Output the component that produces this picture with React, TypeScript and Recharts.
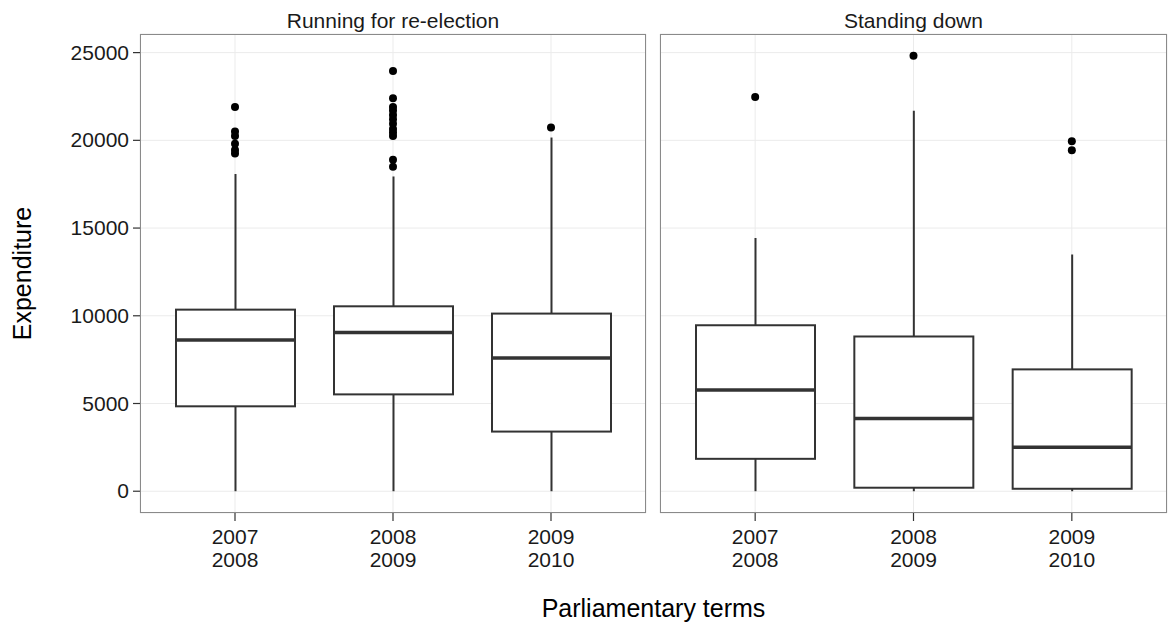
import React from 'react';
import { ComposedChart, Bar, Scatter, XAxis, YAxis, CartesianGrid } from 'recharts';

// ---------- data ----------
const terms = ['2007\n2008', '2008\n2009', '2009\n2010'];
const yTicks = [0, 5000, 10000, 15000, 20000, 25000];
const yDomain: [number, number] = [-1241, 26061];

const panelTitles = ['Running for re-election', 'Standing down'];
const xTitle = 'Parliamentary terms';
const yTitle = 'Expenditure';

// Running for re-election
const reLow = [0, 0, 0];
const reQ1 = [4840, 5520, 3400];
const reMedian = [8625, 9045, 7600];
const reQ3 = [10350, 10540, 10125];
const reHigh = [18080, 17940, 20160];
const reOutliers = [
  [21900, 20500, 20250, 19800, 19450, 19250],
  [23950, 22400, 21900, 21700, 21450, 21200, 20950, 20650, 20450, 20250, 18900, 18500],
  [20730],
];

// Standing down
const sdLow = [0, 0, 0];
const sdQ1 = [1847, 200, 140];
const sdMedian = [5767, 4140, 2510];
const sdQ3 = [9460, 8820, 6945];
const sdHigh = [14440, 21690, 13490];
const sdOutliers = [[22470], [24820], [19950, 19440]];

// ---------- helpers ----------
function buildBoxes(low: number[], q1: number[], med: number[], q3: number[], high: number[]) {
  return terms.map((term, i) => ({
    term,
    range: [low[i], high[i]],
    low: low[i],
    q1: q1[i],
    median: med[i],
    q3: q3[i],
    high: high[i],
  }));
}
function buildOutliers(outs: number[][]) {
  return outs.flatMap((vals, i) => vals.map((v) => ({ term: terms[i], value: v })));
}

const FONT = "'Liberation Sans', Arial, Helvetica, sans-serif";
const BOX_STROKE = '#333333';

const BoxShape = (props: any) => {
  const { x, y, width, height, payload } = props;
  if (!payload || height == null) return null;
  const { low, q1, median, q3, high } = payload;
  const top = Math.min(y, y + height);
  const h = Math.abs(height);
  const py = (v: number) => top + (h * (high - v)) / (high - low);
  const cx = x + width / 2;
  return (
    <g>
      <line x1={cx} x2={cx} y1={py(high)} y2={py(q3)} stroke={BOX_STROKE} strokeWidth={2} />
      <line x1={cx} x2={cx} y1={py(q1)} y2={py(low)} stroke={BOX_STROKE} strokeWidth={2} />
      <rect x={x} y={py(q3)} width={width} height={py(q1) - py(q3)} fill="#ffffff" stroke={BOX_STROKE} strokeWidth={2} />
      <line x1={x} x2={x + width} y1={py(median)} y2={py(median)} stroke={BOX_STROKE} strokeWidth={3.5} />
    </g>
  );
};

const Dot = (props: any) => {
  const { cx, cy } = props;
  if (cx == null || cy == null) return null;
  return <circle cx={cx} cy={cy} r={4} fill="#000000" />;
};

const XTick = (props: any) => {
  const { x, y, payload } = props;
  const lines = String(payload.value).split('\n');
  return (
    <text x={x} y={y} textAnchor="middle" fontFamily={FONT} fontSize={21} fill="#1a1a1a">
      {lines.map((l, i) => (
        <tspan key={i} x={x} dy={i === 0 ? 21 : 23}>
          {l}
        </tspan>
      ))}
    </text>
  );
};

const YTick = (props: any) => {
  const { x, y, payload } = props;
  return (
    <text x={x} y={y} dy={7} textAnchor="end" fontFamily={FONT} fontSize={21} fill="#1a1a1a">
      {payload.value}
    </text>
  );
};

const EmptyTick = () => <g />;

const CHART_H = 600;
const MARGIN_TOP = 34;
const X_AXIS_H = 60;
const MARGIN_BOTTOM = 27;

function Panel(props: {
  boxes: any[];
  outliers: any[];
  width: number;
  left: number;
  showY: boolean;
  marginLeft: number;
  marginRight: number;
  yWidth: number;
}) {
  const { boxes, outliers, width, left, showY, marginLeft, marginRight, yWidth } = props;
  return (
    <div style={{ position: 'absolute', left, top: 0 }}>
      <ComposedChart
        width={width}
        height={CHART_H}
        data={boxes}
        margin={{ top: MARGIN_TOP, right: marginRight, bottom: MARGIN_BOTTOM, left: marginLeft }}
      >
        <CartesianGrid stroke="#ebebeb" strokeWidth={1} />
        <XAxis
          dataKey="term"
          type="category"
          allowDuplicatedCategory={false}
          padding={{ left: 16, right: 16 }}
          height={X_AXIS_H}
          axisLine={false}
          tickLine={{ stroke: '#333333', strokeWidth: 1.2 }}
          tickSize={8}
          tickMargin={2}
          tick={<XTick />}
          interval={0}
        />
        <YAxis
          type="number"
          domain={yDomain}
          allowDataOverflow
          ticks={yTicks}
          interval={0}
          width={yWidth}
          axisLine={false}
          tick={showY ? <YTick /> : <EmptyTick />}
          tickLine={showY ? { stroke: '#333333', strokeWidth: 1.2 } : false}
          tickSize={7}
          tickMargin={4}
        />
        <Bar dataKey="range" barSize={119} shape={<BoxShape />} isAnimationActive={false} />
        <Scatter data={outliers} dataKey="value" shape={<Dot />} isAnimationActive={false} />
      </ComposedChart>
    </div>
  );
}

export default function App() {
  const reBoxes = buildBoxes(reLow, reQ1, reMedian, reQ3, reHigh);
  const sdBoxes = buildBoxes(sdLow, sdQ1, sdMedian, sdQ3, sdHigh);
  const reOut = buildOutliers(reOutliers);
  const sdOut = buildOutliers(sdOutliers);

  const plotTop = MARGIN_TOP;
  const plotBottom = CHART_H - MARGIN_BOTTOM - X_AXIS_H;
  const p1 = { l: 140, r: 646 };
  const p2 = { l: 660, r: 1167 };

  return (
    <div
      style={{
        position: 'absolute',
        left: 0,
        top: 0,
        width: 1172,
        height: 626,
        background: '#ffffff',
        fontFamily: FONT,
        overflow: 'hidden',
      }}
    >
      <Panel boxes={reBoxes} outliers={reOut} width={650} left={0} showY marginLeft={0} marginRight={4} yWidth={140} />
      <Panel boxes={sdBoxes} outliers={sdOut} width={522} left={650} showY={false} marginLeft={9} marginRight={5} yWidth={1} />

      {/* panel borders */}
      <div
        style={{
          position: 'absolute',
          left: p1.l,
          top: plotTop,
          width: p1.r - p1.l,
          height: plotBottom - plotTop,
          border: '1px solid #8a8a8a',
          boxSizing: 'border-box',
          pointerEvents: 'none',
        }}
      />
      <div
        style={{
          position: 'absolute',
          left: p2.l,
          top: plotTop,
          width: p2.r - p2.l,
          height: plotBottom - plotTop,
          border: '1px solid #8a8a8a',
          boxSizing: 'border-box',
          pointerEvents: 'none',
        }}
      />

      <svg
        width={1172}
        height={626}
        style={{ position: 'absolute', left: 0, top: 0, pointerEvents: 'none' }}
      >
        <text x={(p1.l + p1.r) / 2} y={28} textAnchor="middle" fontFamily={FONT} fontSize={21} fill="#1a1a1a">
          {panelTitles[0]}
        </text>
        <text x={(p2.l + p2.r) / 2} y={28} textAnchor="middle" fontFamily={FONT} fontSize={21} fill="#1a1a1a">
          {panelTitles[1]}
        </text>
        <text x={(p1.l + p2.r) / 2} y={617} textAnchor="middle" fontFamily={FONT} fontSize={25} fill="#000000">
          {xTitle}
        </text>
        <text
          x={0}
          y={0}
          transform={`translate(31, ${(plotTop + plotBottom) / 2}) rotate(-90)`}
          textAnchor="middle"
          fontFamily={FONT}
          fontSize={25}
          fill="#000000"
        >
          {yTitle}
        </text>
      </svg>
    </div>
  );
}
